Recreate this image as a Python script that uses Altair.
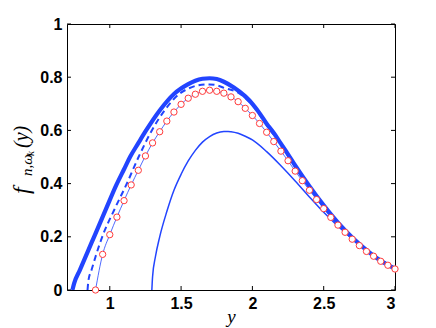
import altair as alt
import pandas as pd

BLUE = "#2244ff"
RED = "#ff3b3b"

x_ticks = [1, 1.5, 2, 2.5, 3]
y_ticks = [0, 0.2, 0.4, 0.6, 0.8, 1]

thick_x = [0.738, 0.75, 0.79, 0.85, 0.89, 0.97, 1.047, 1.1, 1.142, 1.2, 1.25, 1.35, 1.45, 1.55,
           1.6, 1.65, 1.7, 1.75, 1.8, 1.87, 1.95, 2.0, 2.05, 2.1, 2.15, 2.2, 2.25, 2.3, 2.4, 2.5,
           2.6, 2.7, 2.8, 2.9, 3.0]
thick_y = [0, 0.025, 0.075, 0.15, 0.2, 0.3, 0.396, 0.454, 0.5, 0.552, 0.596, 0.675, 0.737, 0.774,
           0.787, 0.794, 0.796, 0.793, 0.783, 0.761, 0.728, 0.70, 0.665, 0.625, 0.59, 0.55, 0.51,
           0.468, 0.39, 0.318, 0.253, 0.197, 0.15, 0.11, 0.08]

dash_x = [0.844, 0.85, 0.872, 0.9, 0.947, 1.03, 1.116, 1.202, 1.291, 1.384, 1.488, 1.55, 1.616,
          1.7, 1.76, 1.8, 1.9, 2.0, 2.1, 2.2, 2.3, 2.4, 2.5, 2.6, 2.7, 2.8, 2.9, 3.0]
dash_y = [0, 0.035, 0.075, 0.125, 0.2, 0.3, 0.396, 0.5, 0.596, 0.675, 0.7375, 0.757, 0.769,
          0.773, 0.768, 0.76, 0.742, 0.695, 0.62, 0.545, 0.463, 0.386, 0.314, 0.25, 0.195,
          0.148, 0.109, 0.079]

low_x = [1.295, 1.30, 1.32, 1.35, 1.40, 1.45, 1.50, 1.55, 1.60, 1.65, 1.70, 1.75, 1.80, 1.83,
         1.85, 1.90, 1.95, 2.0, 2.1, 2.2, 2.3, 2.4, 2.5, 2.6, 2.7, 2.8, 2.9, 3.0]
low_y = [0, 0.05, 0.125, 0.2, 0.295, 0.375, 0.435, 0.485, 0.525, 0.556, 0.577, 0.590, 0.5955,
         0.596, 0.595, 0.589, 0.578, 0.564, 0.52, 0.467, 0.41, 0.35, 0.292, 0.24, 0.193, 0.15,
         0.115, 0.082]

circ_x = [0.9, 0.95, 1.0, 1.05, 1.1, 1.15, 1.2, 1.25, 1.3, 1.35, 1.4, 1.45, 1.5, 1.55, 1.6, 1.65,
          1.7, 1.75, 1.8, 1.85, 1.9, 1.95, 2.0, 2.05, 2.1, 2.15, 2.2, 2.25, 2.3, 2.35, 2.4, 2.45,
          2.5, 2.55, 2.6, 2.65, 2.7, 2.75, 2.8, 2.85, 2.9, 2.95, 3.0]
circ_y = [0, 0.134, 0.208, 0.274, 0.336, 0.395, 0.45, 0.504, 0.553, 0.595, 0.635, 0.669, 0.698,
          0.721, 0.736, 0.747, 0.751, 0.747, 0.740, 0.726, 0.708, 0.683, 0.656, 0.626, 0.593,
          0.558, 0.522, 0.486, 0.447, 0.411, 0.375, 0.340, 0.306, 0.273, 0.244, 0.217, 0.191,
          0.167, 0.145, 0.127, 0.108, 0.093, 0.079]

W, H = 328, 266
xs = alt.Scale(domain=[0.7, 3], nice=False, zero=False)
ys = alt.Scale(domain=[0, 1], nice=False, zero=False)

XA = alt.Axis(values=x_ticks, format="~g", ticks=False, domain=False, grid=False,
              title="y", titleFont="Liberation Serif", titleFontStyle="italic",
              titleFontWeight="normal", titleFontSize=19, titleBaseline="alphabetic",
              titleY=32, titleColor="black")
YA = alt.Axis(values=y_ticks, format="~g", ticks=False, domain=False, grid=False, title=None)

X = alt.X("x:Q", scale=xs, axis=XA)
Y = alt.Y("v:Q", scale=ys, axis=YA)


def curve(xv, yv, width, dash=None):
    df = pd.DataFrame({"x": xv, "v": yv})
    props = dict(color=BLUE, strokeWidth=width, interpolate="monotone", clip=True)
    if dash:
        props["strokeDash"] = dash
    return alt.Chart(df).mark_line(**props).encode(x=X, y=Y)


low = curve(low_x, low_y, 1.5)
thin = curve(circ_x, circ_y, 0.8)
dashed = curve(dash_x, dash_y, 2, dash=[6, 4])
thick = curve(thick_x, thick_y, 4.2)

circles = alt.Chart(pd.DataFrame({"x": circ_x, "v": circ_y})).mark_point(
    shape="circle", size=40, filled=True, fill="white", fillOpacity=1,
    stroke=RED, strokeWidth=1, opacity=1
).encode(x=X, y=Y)

xt = pd.DataFrame({"x": x_ticks})
yt = pd.DataFrame({"v": y_ticks})
tick_bottom = alt.Chart(xt).mark_rule(color="black", strokeWidth=1).encode(
    x=X, y=alt.value(H), y2=alt.value(H - 4))
tick_top = alt.Chart(xt).mark_rule(color="black", strokeWidth=1).encode(
    x=X, y=alt.value(0), y2=alt.value(4))
tick_left = alt.Chart(yt).mark_rule(color="black", strokeWidth=1).encode(
    y=Y, x=alt.value(0), x2=alt.value(4))
tick_right = alt.Chart(yt).mark_rule(color="black", strokeWidth=1).encode(
    y=Y, x=alt.value(W), x2=alt.value(W - 4))

# y-axis title  f_{n,ω_k}(y), composed of pieces
title_main = ["f"]
title_sub = ["n,ω"]
title_subsub = ["k"]
title_arg = ["(y)"]


def tpiece(txt, size, xpos, ypos):
    return alt.Chart(pd.DataFrame({"s": txt})).mark_text(
        angle=270, align="left", baseline="alphabetic", font="Liberation Serif",
        fontStyle="italic", fontSize=size, color="black"
    ).encode(text="s:N", x=alt.value(xpos), y=alt.value(ypos))


yt1 = tpiece(title_main, 24, -38, 170)
yt2 = tpiece(title_sub, 15, -35, 152)
yt3 = tpiece(title_subsub, 11, -33, 132)
yt4 = tpiece(title_arg, 20, -39, 124)

chart = alt.layer(
    thick, low, thin, dashed, circles,
    tick_bottom, tick_top, tick_left, tick_right,
    yt1, yt2, yt3, yt4,
).properties(
    width=W, height=H,
    autosize=alt.AutoSizeParams(type="none"),
    padding={"left": 59, "top": 16, "right": 33, "bottom": 38},
).configure_view(
    stroke="black", strokeWidth=1
).configure_axis(
    labelFont="Liberation Sans", labelFontWeight="bold", labelFontSize=16,
    labelColor="black", labelPadding=5
)

chart.save("out.html", embed_options={"renderer": "svg", "actions": False})
